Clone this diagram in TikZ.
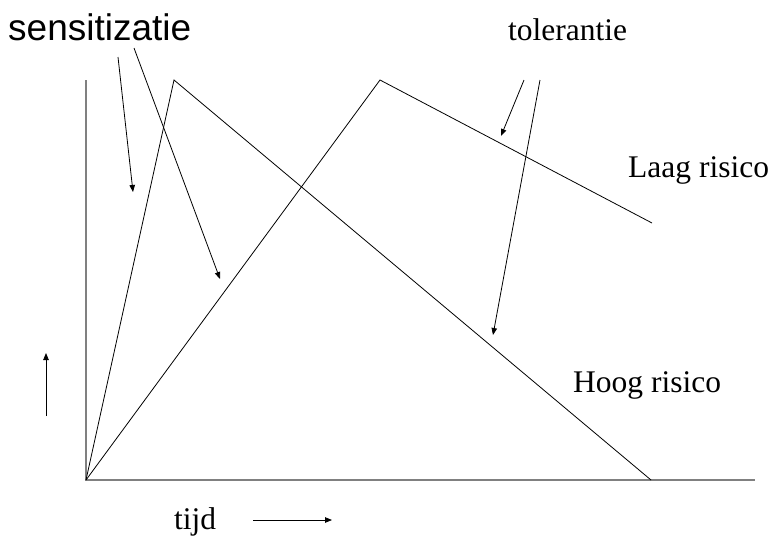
\documentclass[tikz,border=0pt]{standalone}
\usepackage{fontspec}
\setmainfont{Liberation Serif}
\newfontfamily\arialfont{Liberation Sans}
\usetikzlibrary{arrows.meta,positioning,calc}
\tikzset{
  axis/.style={draw=black!50, line width=1.6pt},
  curve/.style={draw=black, line width=0.8pt},
  pnt/.style={-{Triangle[length=7pt,width=5.5pt]}, line width=0.8pt},
  lbl/.style={inner sep=0pt, anchor=base west, font=\fontsize{31.5}{36}\selectfont},
  big/.style={inner sep=0pt, anchor=base west, font=\arialfont\fontsize{37}{42}\selectfont},
}

\begin{document}
\begin{tikzpicture}[x=1pt,y=-1pt]
\useasboundingbox (0,0) rectangle (771,536);
% axes
\coordinate (o) at (86,480);
\coordinate (ytop) at (86,80);
\coordinate (xend) at (755,480);
\draw[axis] (ytop) -- (o) -- (xend);
% curves
\coordinate (hpeak) at (174,80);
\coordinate (hend) at (651,480);
\coordinate (lpeak) at (380,80);
\coordinate (lend) at (652,223);
\draw[curve] (o) -- (hpeak) -- (hend);
\draw[curve] (o) -- (lpeak) -- (lend);
% labels
\node[big] (sens) at (8,40) {sensitizatie};
\node[lbl] (tol) at (508,40) {tolerantie};
\node[lbl] (laag) at (628,177) {Laag risico};
\node[lbl] (hoog) at (573,392) {Hoog risico};
\node[lbl] (tijd) at (174,529) {tijd};
% pointers
\coordinate (s1) at (118,57);
\coordinate (s1t) at (133,192);
\coordinate (s2) at (134,48);
\coordinate (s2t) at (220,279);
\coordinate (t1) at (524,80);
\coordinate (t1t) at (501,136);
\coordinate (t2) at (540,80);
\coordinate (t2t) at (493,335);
\draw[pnt] (s1) -- (s1t);
\draw[pnt] (s2) -- (s2t);
\draw[pnt] (t1) -- (t1t);
\draw[pnt] (t2) -- (t2t);
% direction arrows
\coordinate (up0) at (46,416);
\coordinate (up1) at (46,353);
\coordinate (rt0) at (253,520);
\coordinate (rt1) at (332,520);
\draw[pnt] (up0) -- (up1);
\draw[pnt] (rt0) -- (rt1);
\end{tikzpicture}
\end{document}
